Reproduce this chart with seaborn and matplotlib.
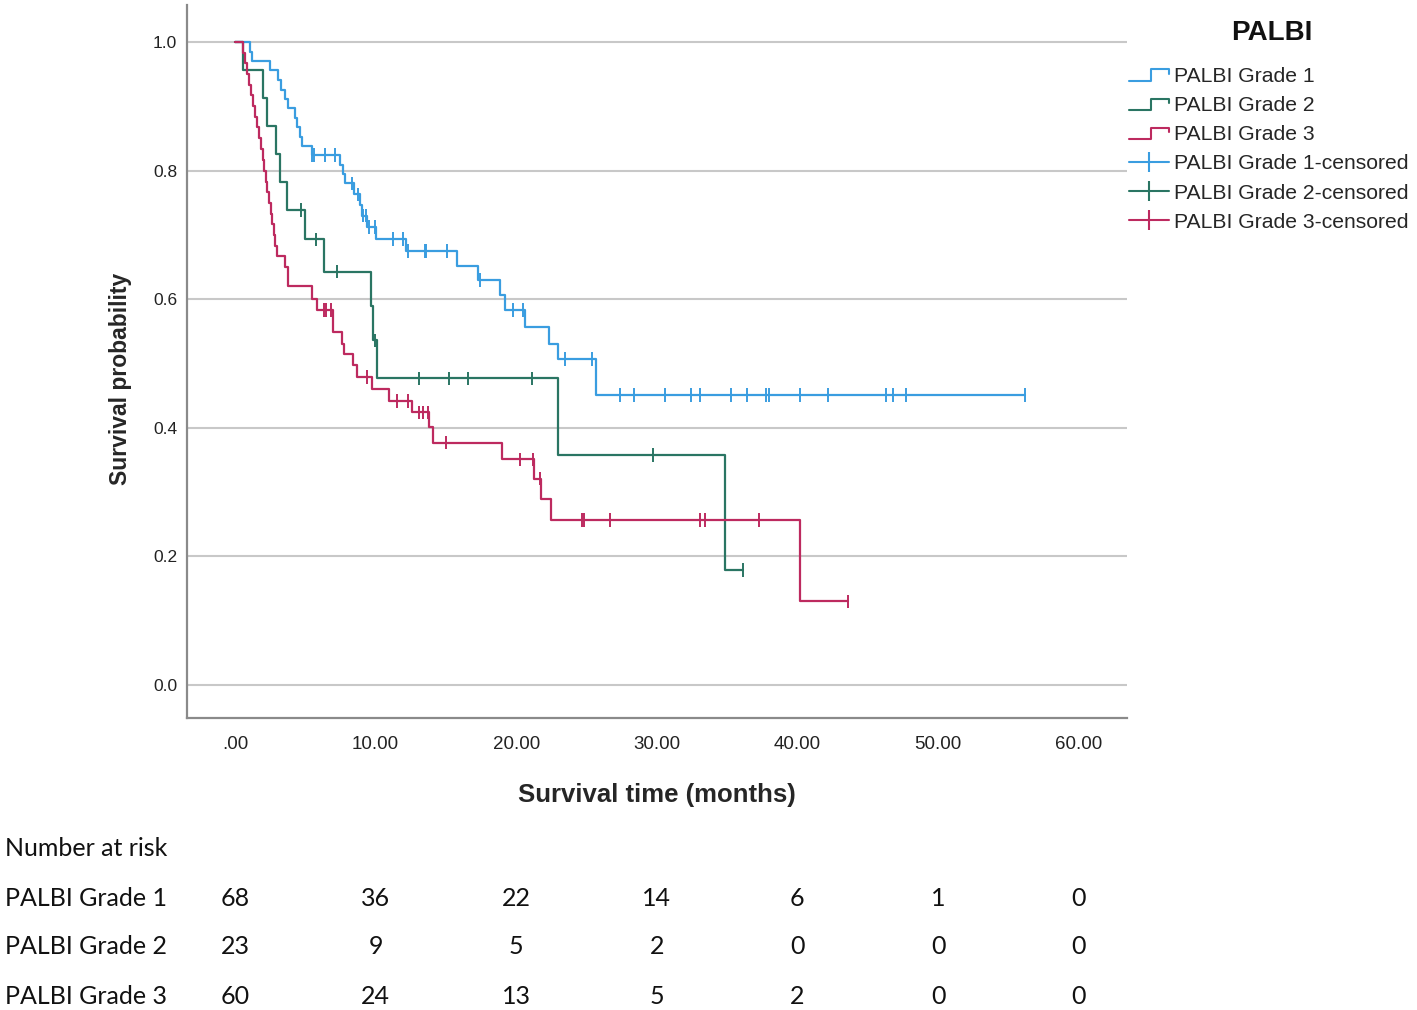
import numpy as np
import pandas as pd
import matplotlib
matplotlib.use("Agg")
import matplotlib.pyplot as plt
from matplotlib.lines import Line2D
from matplotlib.legend_handler import HandlerBase
from matplotlib.ticker import FuncFormatter
import seaborn as sns

groups = ["PALBI Grade 1", "PALBI Grade 2", "PALBI Grade 3"]
colors = ["#3a9de0", "#2a7563", "#bd2a5f"]

# event times (months) and survival just after each drop
g1_time = [0, 1.07, 1.2, 2.5, 3.07, 3.3, 3.56, 3.8, 4.27, 4.4, 4.6, 4.74, 5.45,
           7.47, 7.7, 7.8, 8.5, 8.9, 9.0, 9.4, 10.03, 12.16, 15.77, 17.3, 18.85,
           19.2, 20.6, 22.3, 23.0, 25.7]
g1_surv = [1.0, 0.985, 0.971, 0.956, 0.941, 0.926, 0.912, 0.897, 0.882, 0.868,
           0.853, 0.838, 0.824, 0.809, 0.795, 0.78, 0.763, 0.746, 0.73, 0.712,
           0.694, 0.675, 0.652, 0.63, 0.606, 0.583, 0.557, 0.531, 0.507, 0.451]
g1_cens = [5.5, 5.6, 6.4, 7.1, 8.3, 8.77, 9.1, 9.3, 9.5, 9.96, 11.26, 11.97,
           12.3, 13.5, 13.6, 15.06, 17.4, 19.8, 20.5, 23.5, 25.4, 27.4, 28.4,
           30.6, 32.4, 33.1, 35.3, 36.4, 37.8, 38.0, 40.2, 42.2, 46.3, 46.8,
           47.7, 56.2]

g2_time = [0, 0.6, 1.97, 2.3, 2.9, 3.2, 3.7, 4.98, 6.35, 9.67, 9.84, 10.07,
           22.95, 34.85]
g2_surv = [1.0, 0.957, 0.913, 0.870, 0.826, 0.783, 0.739, 0.693, 0.643, 0.590,
           0.536, 0.477, 0.358, 0.179]
g2_cens = [4.67, 5.76, 7.28, 9.95, 13.1, 15.2, 16.6, 21.1, 29.75, 36.1]

g3_time = [0, 0.6, 0.75, 0.85, 1.0, 1.15, 1.3, 1.45, 1.55, 1.7, 1.85, 2.0, 2.1,
           2.2, 2.3, 2.45, 2.55, 2.65, 2.75, 2.85, 3.0, 3.55, 3.8, 5.45, 5.8,
           7.0, 7.6, 7.77, 8.4, 8.65, 9.72, 10.95, 12.57, 13.8, 14.1, 19.0,
           21.3, 21.8, 22.5, 40.2]
g3_surv = [1.0, 0.983, 0.967, 0.95, 0.933, 0.917, 0.9, 0.883, 0.867, 0.85,
           0.833, 0.817, 0.8, 0.783, 0.767, 0.75, 0.733, 0.717, 0.7, 0.683,
           0.667, 0.65, 0.62, 0.60, 0.583, 0.549, 0.531, 0.514, 0.497, 0.479,
           0.461, 0.442, 0.424, 0.402, 0.377, 0.351, 0.321, 0.29, 0.257, 0.13]
g3_cens = [6.3, 6.5, 6.8, 9.4, 11.5, 12.3, 13.1, 13.4, 13.75, 15.0, 20.3,
           21.2, 21.7, 24.7, 24.8, 26.7, 33.1, 33.4, 37.3, 43.6]

# number at risk table
risk_times = [0, 10, 20, 30, 40, 50, 60]
risk_g1 = [68, 36, 22, 14, 6, 1, 0]
risk_g2 = [23, 9, 5, 2, 0, 0, 0]
risk_g3 = [60, 24, 13, 5, 2, 0, 0]

curves = [(g1_time, g1_surv, g1_cens), (g2_time, g2_surv, g2_cens),
          (g3_time, g3_surv, g3_cens)]

# long tables for seaborn
step_rows, cens_rows = [], []
for name, (t, s, c) in zip(groups, curves):
    t_ext = list(t) + [max(c)]
    s_ext = list(s) + [s[-1]]
    for ti, si in zip(t_ext, s_ext):
        step_rows.append((name, ti, si))
    for ci in c:
        idx = np.searchsorted(t, ci, side="right") - 1
        cens_rows.append((name, ci, s[idx]))
df_step = pd.DataFrame(step_rows, columns=["group", "time", "surv"])
df_cens = pd.DataFrame(cens_rows, columns=["group", "time", "surv"])
pal = dict(zip(groups, colors))

sns.set_style("white")
plt.rcParams["font.family"] = ["Liberation Sans", "DejaVu Sans"]

fig = plt.figure(figsize=(14.17, 10.10), dpi=100)
ax = fig.add_axes([187 / 1417, 1 - 718 / 1010, 940 / 1417, 713 / 1010])

sns.lineplot(data=df_step, x="time", y="surv", hue="group", palette=pal,
             estimator=None, sort=False, drawstyle="steps-post",
             linewidth=1.6, legend=False, ax=ax, zorder=3)
sns.scatterplot(data=df_cens, x="time", y="surv", hue="group", palette=pal,
                marker="|", s=95, linewidth=1.4, legend=False, ax=ax,
                zorder=4)

ax.set_xlim(-3.41, 63.44)
ax.set_ylim(-0.0513, 1.0575)
ax.set_xticks(risk_times)
ax.set_yticks([0.0, 0.2, 0.4, 0.6, 0.8, 1.0])
ax.xaxis.set_major_formatter(FuncFormatter(lambda v, p: f"{v:.2f}".lstrip("0")))
ax.yaxis.set_major_formatter(FuncFormatter(lambda v, p: f"{v:.1f}"))
ax.tick_params(axis="both", length=0, labelsize=12.5, colors="#222222")
ax.tick_params(axis="x", pad=13, labelsize=13.5)
ax.tick_params(axis="y", pad=7)
ax.yaxis.grid(True, color="#c8c8c8", linewidth=1.5)
ax.xaxis.grid(False)
ax.set_axisbelow(True)
for side in ["top", "right"]:
    ax.spines[side].set_visible(False)
for side in ["left", "bottom"]:
    ax.spines[side].set_color("#8a8a8a")
    ax.spines[side].set_linewidth(1.6)

ax.set_xlabel("Survival time (months)", fontsize=18.5, fontweight="bold")
ax.xaxis.set_label_coords(0.5, -0.091)
ax.set_ylabel("Survival probability", fontsize=16.5, fontweight="bold")
ax.yaxis.set_label_coords(-0.059, 0.475)


class StepHandler(HandlerBase):
    def create_artists(self, legend, orig_handle, xdescent, ydescent,
                       width, height, fontsize, trans):
        x0 = -xdescent
        x1 = x0 + width
        xm = x0 + 0.55 * width
        lo = -ydescent + 0.1 * height
        hi = -ydescent + 0.85 * height
        ln = Line2D([x0, xm, xm, x1, x1], [lo, lo, hi, hi, hi - 0.3 * height],
                    color=orig_handle.get_color(), lw=1.5)
        ln.set_transform(trans)
        return [ln]


step_handles = [Line2D([], [], color=c, lw=1.5) for c in colors]
cens_handles = [Line2D([], [], color=c, lw=1.5, marker="|", markersize=14,
                       markeredgewidth=1.5) for c in colors]
labels = groups + [g + "-censored" for g in groups]
fig.text(1272 / 1417, 1 - 33 / 1010, "PALBI", ha="center", va="center",
         fontsize=20, fontweight="bold", color="#111111")
fig.legend(step_handles + cens_handles, labels, loc="upper left",
           bbox_to_anchor=(1129 / 1417, 1 - 67 / 1010), frameon=False,
           fontsize=15.2, handlelength=1.9, handletextpad=0.25,
           labelspacing=0.48, borderpad=0, borderaxespad=0, numpoints=1,
           handler_map={h: StepHandler() for h in step_handles})

# number at risk table under the axis
tbl = dict(family=["Lato", "DejaVu Sans"], fontsize=18, color="#111111",
           va="center")
fig.text(5 / 1417, 1 - 848 / 1010, "Number at risk", ha="left", **tbl)
trans = matplotlib.transforms.blended_transform_factory(ax.transData,
                                                        fig.transFigure)
for name, risk, ypx in zip(groups, [risk_g1, risk_g2, risk_g3], [898, 947, 997]):
    fig.text(5 / 1417, 1 - ypx / 1010, name, ha="left", **tbl)
    for t, n in zip(risk_times, risk):
        ax.text(t, 1 - ypx / 1010, str(n), ha="center", transform=trans,
                clip_on=False, **tbl)

fig.savefig("out.png", dpi=100)
